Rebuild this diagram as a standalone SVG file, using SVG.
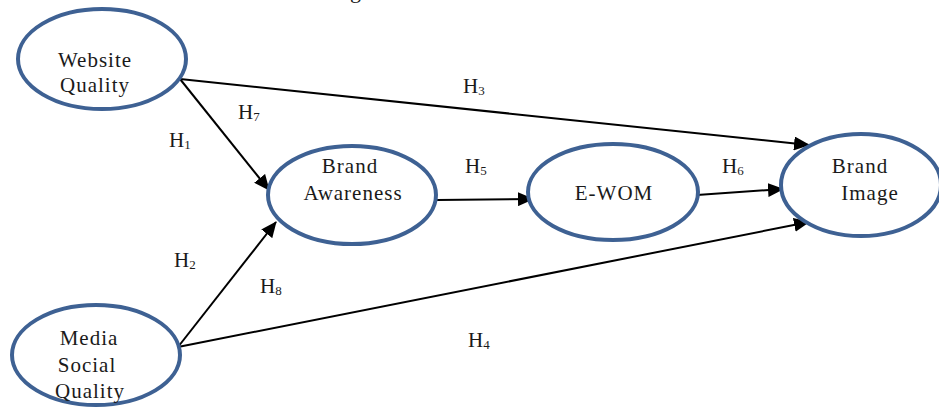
<svg xmlns="http://www.w3.org/2000/svg" width="939" height="410" viewBox="0 0 939 410">
  <style>
    .node { fill: #ffffff; stroke: #3E6193; stroke-width: 4; }
    .lbl { font-family: "Liberation Serif", "DejaVu Serif", serif; font-size: 21px; letter-spacing: 1px; fill: #1a1a1a; text-anchor: middle; }
    .hyp { font-family: "Liberation Serif", "DejaVu Serif", serif; font-size: 21px; fill: #1a1a1a; }
    .sub { font-size: 13px; }
    .edge { stroke: #000000; stroke-width: 2; fill: none; marker-end: url(#arrow); }
  </style>
  <defs>
    <marker id="arrow" markerUnits="userSpaceOnUse" markerWidth="16" markerHeight="14" refX="15" refY="7" orient="auto">
      <path d="M0,0 L16,7 L0,14 Z" fill="#000000"/>
    </marker>
  </defs>
  <rect width="939" height="410" fill="#ffffff"/>

  <!-- heading line, mostly above the canvas -->
  <text x="356" y="-2" class="lbl" style="font-size:22px">g</text>

  <!-- connectors -->
  <g id="connectors">
    <line class="edge" x1="180" y1="79" x2="269" y2="190"/>
    <line class="edge" x1="180" y1="79" x2="809" y2="145"/>
    <line class="edge" x1="437" y1="200" x2="533" y2="199"/>
    <line class="edge" x1="697" y1="195" x2="783" y2="189"/>
    <line class="edge" x1="178" y1="347" x2="276" y2="222"/>
    <line class="edge" x1="178" y1="347" x2="809" y2="222"/>
  </g>

  <!-- hypothesis labels -->
  <g id="labels">
    <text class="hyp" x="463" y="93">H<tspan class="sub" dy="2">3</tspan></text>
    <text class="hyp" x="238" y="119">H<tspan class="sub" dy="2">7</tspan></text>
    <text class="hyp" x="169" y="147">H<tspan class="sub" dy="2">1</tspan></text>
    <text class="hyp" x="465" y="173">H<tspan class="sub" dy="2">5</tspan></text>
    <text class="hyp" x="722" y="173">H<tspan class="sub" dy="2">6</tspan></text>
    <text class="hyp" x="174" y="267">H<tspan class="sub" dy="2">2</tspan></text>
    <text class="hyp" x="260" y="293">H<tspan class="sub" dy="2">8</tspan></text>
    <text class="hyp" x="468" y="347">H<tspan class="sub" dy="2">4</tspan></text>
  </g>

  <!-- constructs -->
  <g id="website-quality">
    <ellipse class="node" cx="102" cy="59" rx="84" ry="50"/>
    <text class="lbl" x="95" y="67">Website</text>
    <text class="lbl" x="95" y="92">Quality</text>
  </g>
  <g id="brand-awareness">
    <ellipse class="node" cx="352" cy="195" rx="84" ry="49"/>
    <text class="lbl" x="350" y="173">Brand</text>
    <text class="lbl" x="353" y="200">Awareness</text>
  </g>
  <g id="e-wom">
    <ellipse class="node" cx="613" cy="192" rx="85" ry="48"/>
    <text class="lbl" x="614" y="200">E-WOM</text>
  </g>
  <g id="brand-image">
    <ellipse class="node" cx="861" cy="185" rx="80" ry="51"/>
    <text class="lbl" x="860" y="173">Brand</text>
    <text class="lbl" x="870" y="200">Image</text>
  </g>
  <g id="media-social-quality">
    <ellipse class="node" cx="96" cy="355" rx="84" ry="50"/>
    <text class="lbl" x="89" y="345">Media</text>
    <text class="lbl" x="87" y="372">Social</text>
    <text class="lbl" x="90" y="398">Quality</text>
  </g>
</svg>
